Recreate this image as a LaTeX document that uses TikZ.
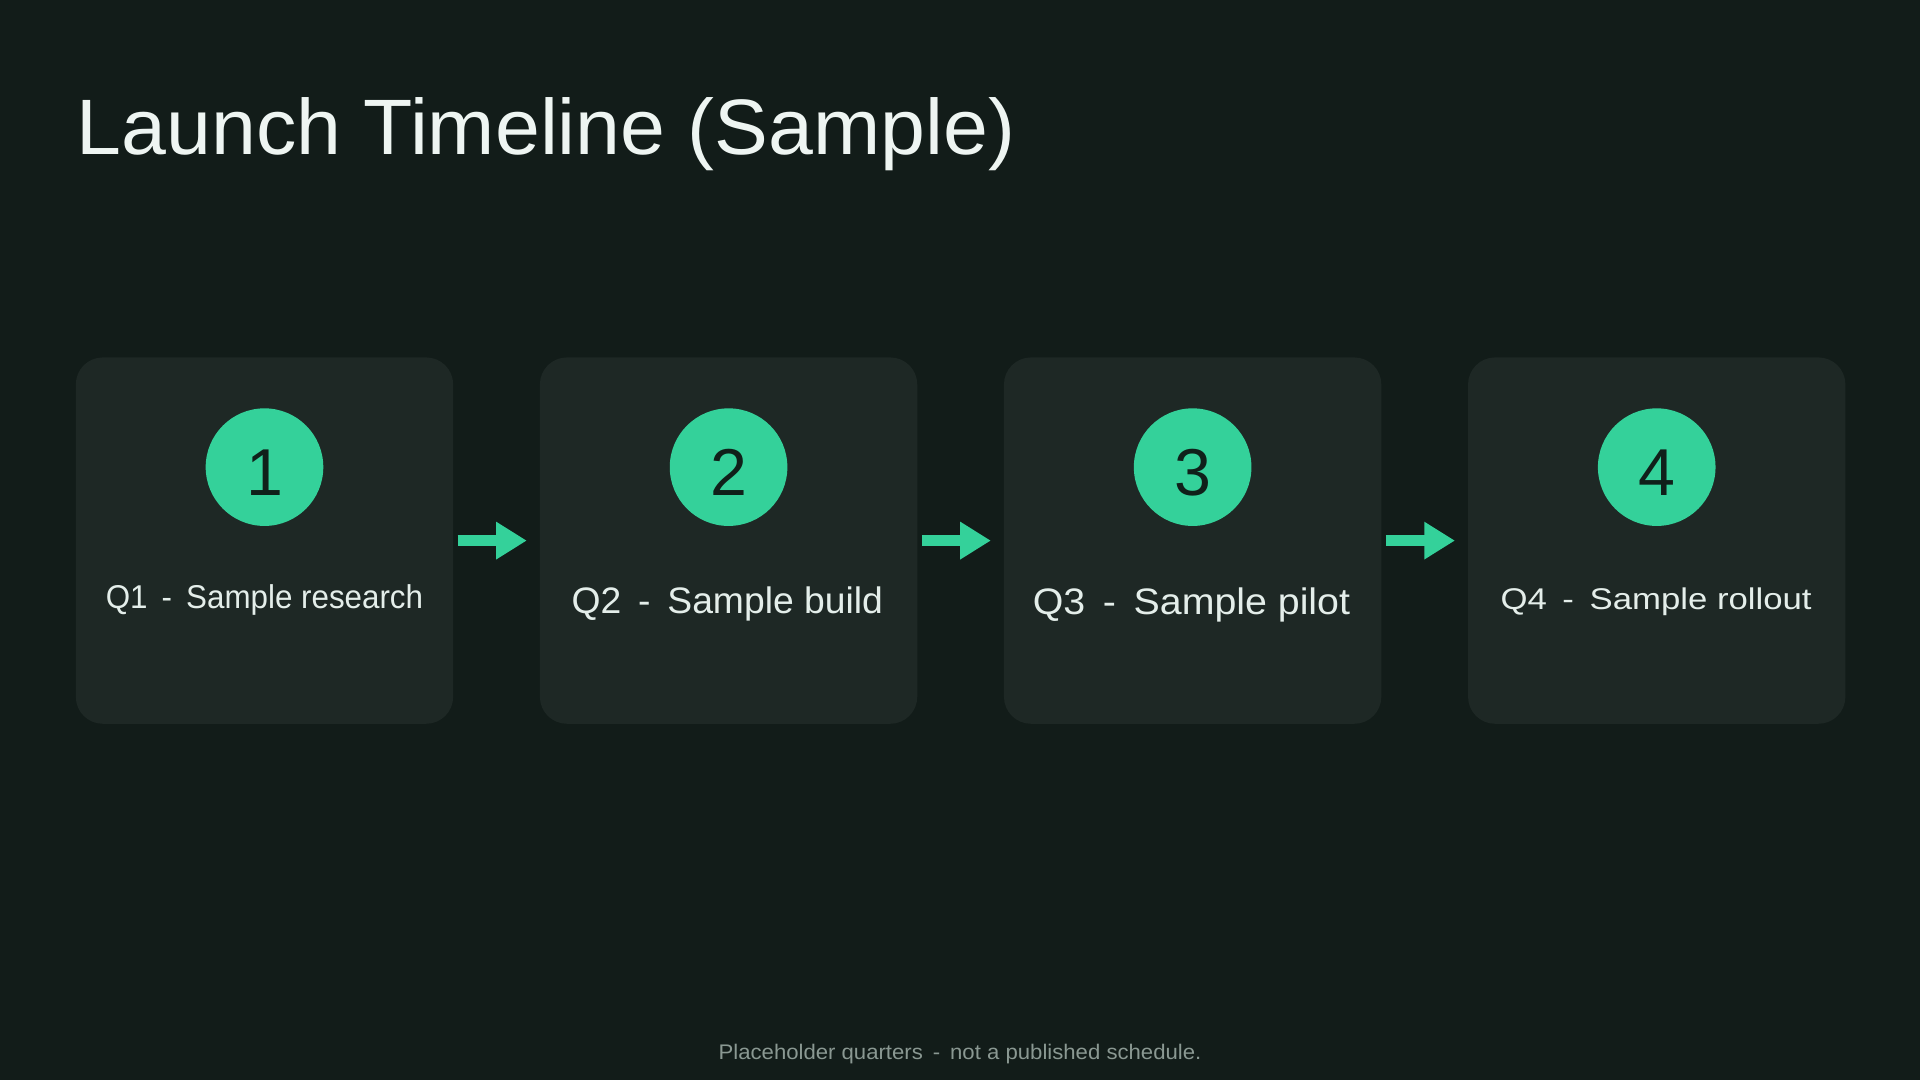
\documentclass[tikz,border=0pt]{standalone}
\usepackage{fontspec}
\setmainfont{Liberation Sans}
\usepackage{xcolor}
\usetikzlibrary{arrows.meta,positioning}
\definecolor{bgdark}{RGB}{18,28,25}
\definecolor{carddark}{RGB}{30,40,37}
\definecolor{mint}{RGB}{52,209,154}
\definecolor{digitink}{RGB}{16,32,26}
\definecolor{titleink}{RGB}{238,245,242}
\definecolor{labelink}{RGB}{228,238,234}
\definecolor{footink}{RGB}{138,152,146}
\newcommand{\fitlabel}[3]{\resizebox{#1}{#2}{#3}}
\newcommand{\qsep}{\hspace{0.45em}-\hspace{0.45em}}

\begin{document}
\begin{tikzpicture}[x=0.01cm,y=-0.01cm,
	card/.style={fill=carddark,rounded corners=0.22cm,minimum width=3.08cm,minimum height=2.99cm,inner sep=0pt},
	badge/.style={circle,fill=mint,minimum size=0.96cm,inner sep=0pt,text=digitink,
		font=\fontsize{15.4pt}{15.4pt}\selectfont,text height=0.47cm,text depth=0pt},
	stagetext/.style={anchor=base,inner sep=0pt,text=labelink},
	flow/.style={draw=mint,line width=0.095cm,-{Triangle[length=0.25cm,width=0.29cm]},
		shorten <=0.03cm,shorten >=0.1cm}]
	\useasboundingbox (0,0) rectangle (1568,882);
	\fill[bgdark] (0,0) rectangle (1568,882);
	\node[anchor=base west,inner sep=0pt,text=titleink] (title) at (62,126) {\fitlabel{7.66cm}{0.465cm}{Launch Timeline (Sample)}};
	%%%%%
	\foreach \i/\x in {1/216,2/595,3/974,4/1353}{
		\node[card] (card\i) at (\x,441.5) {};
		\node[badge] (badge\i) at (\x,381.5) {\i};
	}
	\foreach \a/\b in {1/2,2/3,3/4}
		\draw[flow] (card\a) -- (card\b);
	%%%%%
	\node[stagetext] (stage1) at (216,497) {\fitlabel{2.59cm}{0.195cm}{Q1\qsep Sample research}};
	\node[stagetext] (stage2) at (594,501.4) {\fitlabel{2.54cm}{0.218cm}{Q2\qsep Sample build}};
	\node[stagetext] (stage3) at (973,502) {\fitlabel{2.59cm}{0.218cm}{Q3\qsep Sample pilot}};
	\node[stagetext] (stage4) at (1352.5,498) {\fitlabel{2.54cm}{0.177cm}{Q4\qsep Sample rollout}};
	%%%%%
	\node[anchor=base,inner sep=0pt,text=footink] (footnote) at (784,865) {\fitlabel{3.94cm}{0.125cm}{Placeholder quarters\qsep not a published schedule.}};
\end{tikzpicture}
\end{document}
